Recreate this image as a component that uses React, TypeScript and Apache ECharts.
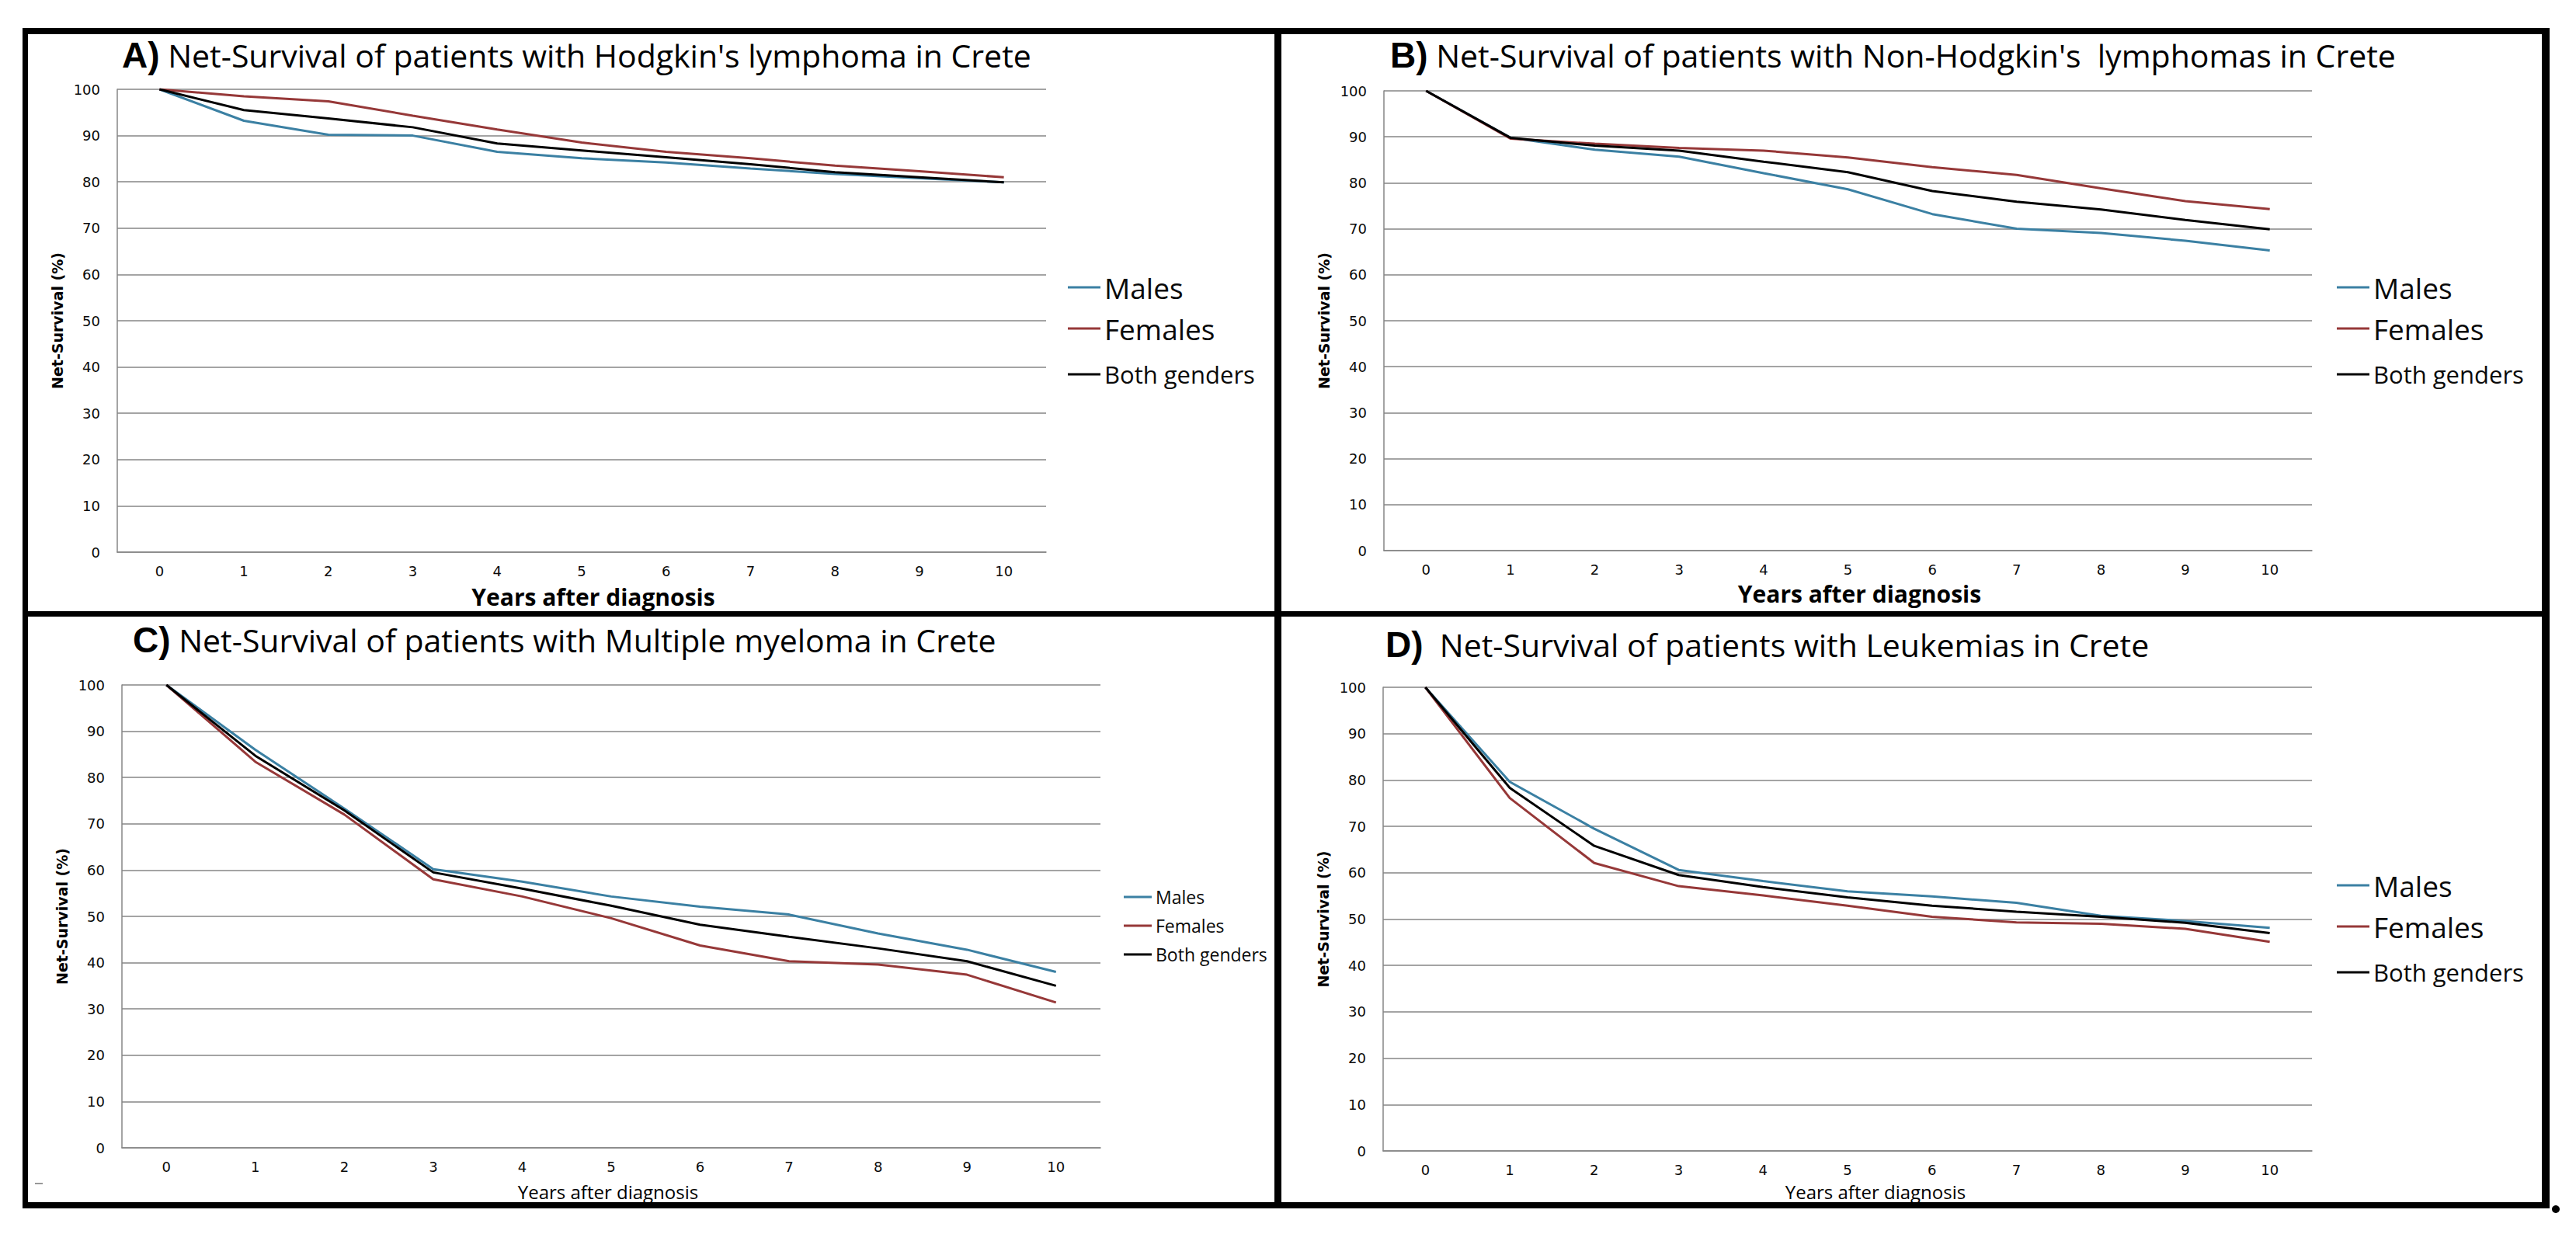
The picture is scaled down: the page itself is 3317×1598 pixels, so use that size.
import React, { useEffect, useRef } from 'react';
import * as echarts from 'echarts';

// ---------- data ----------
const years = ['0', '1', '2', '3', '4', '5', '6', '7', '8', '9', '10'];
const seriesNames = ['Males', 'Females', 'Both genders'];

const hodgkinMales = [100, 93.2, 90.2, 90.0, 86.5, 85.1, 84.2, 82.9, 81.7, 80.8, 79.9];
const hodgkinFemales = [100, 98.5, 97.4, 94.3, 91.3, 88.5, 86.5, 85.1, 83.5, 82.3, 81.0];
const hodgkinBoth = [100, 95.5, 93.7, 91.8, 88.3, 86.8, 85.3, 83.8, 82.1, 81.0, 79.9];

const nhlMales = [100, 89.8, 87.2, 85.7, 82.1, 78.6, 73.2, 70.0, 69.1, 67.4, 65.3];
const nhlFemales = [100, 89.6, 88.5, 87.6, 87.0, 85.5, 83.4, 81.7, 78.8, 76.0, 74.3];
const nhlBoth = [100, 89.8, 88.1, 87.0, 84.6, 82.3, 78.2, 75.9, 74.2, 71.9, 69.9];

const myelomaMales = [100, 86.0, 73.3, 60.2, 57.5, 54.3, 52.1, 50.4, 46.3, 42.8, 38.0];
const myelomaFemales = [100, 83.4, 72.0, 58.0, 54.3, 49.6, 43.7, 40.3, 39.6, 37.4, 31.4];
const myelomaBoth = [100, 84.7, 72.9, 59.5, 56.0, 52.3, 48.2, 45.6, 43.1, 40.3, 35.0];

const leukemiaMales = [100, 79.6, 69.5, 60.6, 58.2, 56.0, 54.9, 53.5, 50.7, 49.6, 48.1];
const leukemiaFemales = [100, 76.1, 62.1, 57.1, 55.1, 52.9, 50.5, 49.3, 49.0, 47.9, 45.1];
const leukemiaBoth = [100, 78.3, 65.8, 59.5, 56.9, 54.7, 52.9, 51.6, 50.5, 49.2, 47.0];

const panelLetters = ['A)', 'B)', 'C)', 'D)'];
const panelTitles = [
  " Net-Survival of patients with Hodgkin's lymphoma in Crete",
  " Net-Survival of patients with Non-Hodgkin's  lymphomas in Crete",
  ' Net-Survival of patients with Multiple myeloma in Crete',
  '  Net-Survival of patients with Leukemias in Crete',
];
const panelData = [
  [hodgkinMales, hodgkinFemales, hodgkinBoth],
  [nhlMales, nhlFemales, nhlBoth],
  [myelomaMales, myelomaFemales, myelomaBoth],
  [leukemiaMales, leukemiaFemales, leukemiaBoth],
];
const xAxisName = 'Years after diagnosis';
const yAxisName = 'Net-Survival (%)';

// ---------- styling / layout ----------
const lineColors = ['#3b80a3', '#963838', '#000000'];
const gridColor = '#868686';
const textColor = '#0a0a0a';

const layouts = [
  {
    grid: { left: 151, top: 115, width: 1196, height: 596 },
    title: { left: 157, top: 45 },
    legend: { left: 1375, top: 350, big: true },
    xName: { gap: 42, shift: 30, size: 30, bold: true },
  },
  {
    grid: { left: 1782, top: 117, width: 1195, height: 592 },
    title: { left: 1790, top: 45 },
    legend: { left: 3009, top: 350, big: true },
    xName: { gap: 40, shift: 30, size: 30, bold: true },
  },
  {
    grid: { left: 157, top: 882, width: 1260, height: 596 },
    title: { left: 171, top: 798 },
    legend: { left: 1447, top: 1143, big: false },
    xName: { gap: 44, shift: -8, size: 24, bold: false },
  },
  {
    grid: { left: 1781, top: 885, width: 1196, height: 597 },
    title: { left: 1784, top: 804 },
    legend: { left: 3009, top: 1120, big: true },
    xName: { gap: 40, shift: 72, size: 24, bold: false },
  },
];

function buildOption() {
  const grid = layouts.map((l) => ({ ...l.grid, outerBoundsMode: 'none', containLabel: false }));

  const title = layouts.map((l, i) => ({
    left: l.title.left,
    top: l.title.top,
    padding: 0,
    text: `{l|${panelLetters[i]}}{t|${panelTitles[i]}}`,
    textStyle: {
      rich: {
        l: {
          fontFamily: 'Liberation Sans, Arial, sans-serif',
          fontWeight: 'bold',
          fontSize: 46,
          lineHeight: 52,
          color: '#000',
        },
        t: {
          fontFamily: 'Open Sans, sans-serif',
          fontWeight: 'normal',
          fontSize: 41,
          lineHeight: 52,
          color: '#000',
        },
      },
    },
  }));

  const legend = layouts.map((l) => {
    const big = l.legend.big;
    const baseStyle = {
      fontFamily: 'Open Sans, sans-serif',
      color: textColor,
    };
    const data = big
      ? [
          { name: seriesNames[0], textStyle: { ...baseStyle, fontSize: 37, lineHeight: 40 } },
          { name: seriesNames[1], textStyle: { ...baseStyle, fontSize: 37, lineHeight: 40 } },
          { name: seriesNames[2], textStyle: { ...baseStyle, fontSize: 31, lineHeight: 52 } },
        ]
      : seriesNames.map((n) => ({ name: n, textStyle: { ...baseStyle, fontSize: 23, lineHeight: 24 } }));
    return {
      orient: 'vertical',
      left: l.legend.left,
      top: l.legend.top,
      padding: 0,
      itemGap: 13,
      itemWidth: big ? 42 : 36,
      itemHeight: 3,
      icon: 'rect',
      selectedMode: false,
      textStyle: baseStyle,
      data,
    };
  });

  const xAxis = layouts.map((l, i) => ({
    type: 'category',
    gridIndex: i,
    data: years,
    boundaryGap: true,
    axisLine: { show: true, lineStyle: { color: gridColor, width: 1.5 } },
    axisTick: { show: false },
    axisLabel: {
      margin: 15,
      fontFamily: 'DejaVu Sans, sans-serif',
      fontSize: 18,
      color: textColor,
    },
    splitLine: { show: false },
    name: xAxisName,
    nameLocation: 'middle',
    nameGap: l.xName.gap,
    nameTextStyle: {
      fontFamily: 'Open Sans, sans-serif',
      fontWeight: l.xName.bold ? 'bold' : 'normal',
      fontSize: l.xName.size,
      color: '#000',
      padding: l.xName.shift >= 0 ? [0, 0, 0, l.xName.shift] : [0, -l.xName.shift, 0, 0],
    },
  }));

  const yAxis = layouts.map((l, i) => ({
    type: 'value',
    gridIndex: i,
    min: 0,
    max: 100,
    interval: 10,
    axisLine: { show: true, lineStyle: { color: gridColor, width: 1.5 } },
    axisTick: { show: false },
    axisLabel: {
      margin: 22,
      fontFamily: 'DejaVu Sans, sans-serif',
      fontSize: 18,
      color: textColor,
    },
    splitLine: { show: true, lineStyle: { color: gridColor, width: 1.5 } },
    name: yAxisName,
    nameLocation: 'middle',
    nameGap: 68,
    nameTextStyle: {
      fontFamily: 'DejaVu Sans, sans-serif',
      fontWeight: 'bold',
      fontSize: 19,
      color: '#000',
    },
  }));

  const series: any[] = [];
  panelData.forEach((sets, p) => {
    sets.forEach((values, k) => {
      series.push({
        type: 'line',
        name: seriesNames[k],
        xAxisIndex: p,
        yAxisIndex: p,
        data: values,
        symbol: 'none',
        showSymbol: false,
        smooth: false,
        z: 3 + (k === 2 ? 1 : 0),
        itemStyle: { color: lineColors[k] },
        lineStyle: { color: lineColors[k], width: 3 },
        emphasis: { disabled: true },
      });
    });
  });

  const black = { fill: '#000' };
  const graphic = [
    { type: 'rect', shape: { x: 29, y: 36, width: 3254, height: 8 }, style: black, silent: true },
    { type: 'rect', shape: { x: 29, y: 1548, width: 3254, height: 8 }, style: black, silent: true },
    { type: 'rect', shape: { x: 29, y: 36, width: 7, height: 1520 }, style: black, silent: true },
    { type: 'rect', shape: { x: 3273, y: 36, width: 10, height: 1520 }, style: black, silent: true },
    { type: 'rect', shape: { x: 1641, y: 36, width: 9, height: 1520 }, style: black, silent: true },
    { type: 'rect', shape: { x: 29, y: 787, width: 3254, height: 7 }, style: black, silent: true },
    { type: 'circle', shape: { cx: 3291, cy: 1557, r: 5 }, style: black, silent: true },
    { type: 'line', shape: { x1: 45, y1: 1524, x2: 55, y2: 1524 }, style: { stroke: '#777', lineWidth: 1.5 }, silent: true },
  ];

  return {
    animation: false,
    backgroundColor: '#ffffff',
    title,
    legend,
    grid,
    xAxis,
    yAxis,
    series,
    graphic,
  };
}

export default function App() {
  const ref = useRef<HTMLDivElement>(null);
  useEffect(() => {
    document.body.style.margin = '0';
    document.body.style.overflow = 'hidden';
    if (!ref.current) return;
    const chart = echarts.init(ref.current, undefined, { renderer: 'svg' });
    chart.setOption(buildOption() as any);
    return () => {
      chart.dispose();
    };
  }, []);
  return (
    <div
      ref={ref}
      style={{ position: 'absolute', left: 0, top: 0, width: 3317, height: 1598, background: '#fff' }}
    />
  );
}
